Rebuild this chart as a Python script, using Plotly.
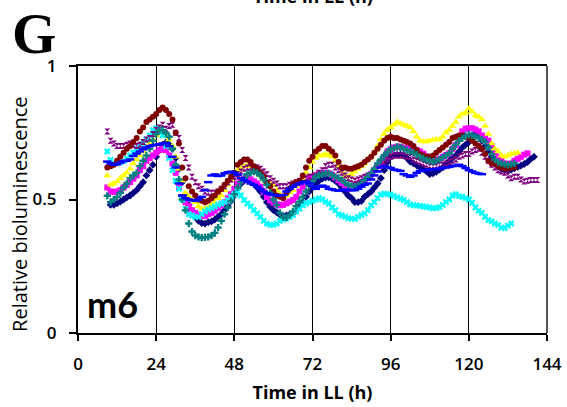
import plotly.graph_objects as go

# ---------------- data (hourly samples, relative bioluminescence) ----------------
x_ticks = [0, 24, 48, 72, 96, 120, 144]
y_ticks = [0, 0.5, 1]
y_tick_labels = ["0", "0.5", "1"]

navy_start = 10
navy = [0.48, 0.48, 0.486, 0.492, 0.50, 0.508, 0.515, 0.525, 0.535, 0.55,
        0.565, 0.59, 0.61, 0.63, 0.66, 0.685, 0.705, 0.713, 0.705, 0.69,
        0.655, 0.615, 0.565, 0.52, 0.48, 0.455, 0.435, 0.42, 0.412, 0.41,
        0.415, 0.418, 0.425, 0.435, 0.445, 0.46, 0.475, 0.495, 0.515, 0.54,
        0.56, 0.57, 0.575, 0.57, 0.56, 0.545, 0.53, 0.51, 0.49, 0.473,
        0.46, 0.452, 0.443, 0.438, 0.44, 0.444, 0.448, 0.46, 0.475, 0.49,
        0.51, 0.53, 0.545, 0.56, 0.57, 0.578, 0.582, 0.583, 0.578, 0.57,
        0.56, 0.545, 0.53, 0.515, 0.505, 0.49, 0.49, 0.494, 0.51, 0.52,
        0.53, 0.545, 0.56, 0.58, 0.61, 0.64, 0.66, 0.665, 0.668, 0.668,
        0.665, 0.655, 0.642, 0.635, 0.628, 0.62, 0.615, 0.605, 0.595, 0.598,
        0.604, 0.612, 0.62, 0.632, 0.645, 0.655, 0.665, 0.68, 0.695, 0.705,
        0.715, 0.74, 0.748, 0.745, 0.72, 0.70, 0.68, 0.66, 0.64, 0.625,
        0.615, 0.61, 0.61, 0.612, 0.617, 0.622, 0.627, 0.633, 0.64, 0.652,
        0.66]

magenta_start = 9
magenta = [0.545, 0.53, 0.528, 0.53, 0.535, 0.545, 0.555, 0.565, 0.578, 0.59,
           0.61, 0.625, 0.645, 0.655, 0.665, 0.675, 0.685, 0.69, 0.685, 0.665,
           0.635, 0.60, 0.545, 0.51, 0.49, 0.475, 0.46, 0.45, 0.443, 0.44,
           0.438, 0.445, 0.45, 0.458, 0.468, 0.478, 0.49, 0.505, 0.52, 0.54,
           0.56, 0.57, 0.578, 0.58, 0.575, 0.568, 0.56, 0.548, 0.53, 0.51,
           0.497, 0.488, 0.482, 0.478, 0.48, 0.486, 0.492, 0.498, 0.51, 0.53,
           0.548, 0.565, 0.578, 0.585, 0.59, 0.597, 0.598, 0.60, 0.598, 0.592,
           0.582, 0.572, 0.562, 0.55, 0.542, 0.545, 0.548, 0.56, 0.566, 0.572,
           0.58, 0.595, 0.61, 0.625, 0.64, 0.66, 0.68, 0.688, 0.695, 0.698,
           0.697, 0.694, 0.692, 0.69, 0.688, 0.685, 0.68, 0.672, 0.662, 0.654,
           0.65, 0.648, 0.652, 0.66, 0.667, 0.673, 0.69, 0.704, 0.735, 0.755,
           0.765, 0.767, 0.767, 0.762, 0.755, 0.74, 0.73, 0.72, 0.70, 0.68,
           0.66, 0.645, 0.635, 0.63, 0.635, 0.645, 0.652, 0.66, 0.668, 0.673]

yellow_start = 9
yellow = [0.59, 0.555, 0.56, 0.567, 0.58, 0.59, 0.60, 0.615, 0.635, 0.65,
          0.665, 0.68, 0.695, 0.71, 0.725, 0.74, 0.755, 0.75, 0.74, 0.725,
          0.70, 0.66, 0.615, 0.57, 0.525, 0.51, 0.50, 0.49, 0.475, 0.465,
          0.465, 0.47, 0.48, 0.49, 0.505, 0.515, 0.535, 0.555, 0.575, 0.60,
          0.61, 0.617, 0.625, 0.627, 0.625, 0.615, 0.605, 0.59, 0.575, 0.565,
          0.56, 0.553, 0.535, 0.52, 0.505, 0.515, 0.525, 0.535, 0.55, 0.565,
          0.58, 0.60, 0.62, 0.64, 0.655, 0.665, 0.665, 0.67, 0.665, 0.66,
          0.645, 0.625, 0.605, 0.59, 0.585, 0.595, 0.605, 0.615, 0.625, 0.635,
          0.65, 0.66, 0.68, 0.70, 0.725, 0.745, 0.76, 0.77, 0.78, 0.79,
          0.785, 0.78, 0.775, 0.77, 0.755, 0.735, 0.72, 0.717, 0.717, 0.72,
          0.723, 0.725, 0.725, 0.735, 0.75, 0.76, 0.775, 0.79, 0.81, 0.82,
          0.825, 0.84, 0.83, 0.815, 0.81, 0.80, 0.775, 0.745, 0.71, 0.69,
          0.68, 0.665, 0.66, 0.665, 0.67, 0.672, 0.675]

cyan_start = 9
cyan = [0.68, 0.648, 0.635, 0.635, 0.64, 0.645, 0.655, 0.665, 0.675, 0.69,
        0.70, 0.71, 0.725, 0.74, 0.76, 0.767, 0.755, 0.74, 0.70, 0.655,
        0.61, 0.57, 0.54, 0.50, 0.465, 0.445, 0.44, 0.434, 0.435, 0.445,
        0.455, 0.462, 0.468, 0.474, 0.48, 0.485, 0.49, 0.498, 0.51, 0.52,
        0.53, 0.515, 0.498, 0.485, 0.475, 0.46, 0.448, 0.435, 0.42, 0.41,
        0.405, 0.405, 0.41, 0.42, 0.425, 0.43, 0.435, 0.442, 0.455, 0.465,
        0.478, 0.486, 0.49, 0.495, 0.50, 0.505, 0.50, 0.492, 0.485, 0.47,
        0.46, 0.445, 0.44, 0.436, 0.43, 0.428, 0.427, 0.435, 0.442, 0.448,
        0.46, 0.478, 0.49, 0.505, 0.518, 0.522, 0.52, 0.518, 0.513, 0.508,
        0.503, 0.498, 0.49, 0.482, 0.478, 0.478, 0.476, 0.474, 0.472, 0.47,
        0.467, 0.468, 0.472, 0.48, 0.49, 0.50, 0.515, 0.52, 0.513, 0.51,
        0.505, 0.50, 0.488, 0.47, 0.458, 0.45, 0.435, 0.423, 0.418, 0.41,
        0.404, 0.395, 0.393, 0.402, 0.41]

purple_start = 9
purple = [0.755, 0.72, 0.71, 0.70, 0.70, 0.70, 0.705, 0.71, 0.705, 0.70,
          0.705, 0.715, 0.725, 0.73, 0.745, 0.76, 0.77, 0.78, 0.765, 0.775,
          0.78, 0.75, 0.73, 0.685, 0.655, 0.62, 0.585, 0.565, 0.55, 0.54,
          0.53, 0.525, 0.525, 0.525, 0.53, 0.54, 0.55, 0.565, 0.575, 0.585,
          0.595, 0.605, 0.615, 0.62, 0.62, 0.62, 0.62, 0.615, 0.605, 0.595,
          0.58, 0.57, 0.56, 0.55, 0.55, 0.55, 0.555, 0.56, 0.565, 0.57,
          0.575, 0.58, 0.585, 0.585, 0.59, 0.60, 0.61, 0.625, 0.63, 0.63,
          0.62, 0.61, 0.60, 0.59, 0.58, 0.575, 0.57, 0.575, 0.58, 0.585,
          0.59, 0.59, 0.60, 0.615, 0.63, 0.64, 0.65, 0.66, 0.665, 0.665,
          0.665, 0.665, 0.66, 0.66, 0.65, 0.645, 0.64, 0.635, 0.63, 0.625,
          0.625, 0.625, 0.63, 0.63, 0.635, 0.64, 0.645, 0.65, 0.66, 0.665,
          0.67, 0.67, 0.68, 0.685, 0.69, 0.675, 0.66, 0.645, 0.63, 0.62,
          0.61, 0.605, 0.60, 0.59, 0.58, 0.585, 0.585, 0.575, 0.567, 0.57,
          0.573, 0.573, 0.573]

maroon_start = 9
maroon = [0.62, 0.625, 0.63, 0.645, 0.66, 0.675, 0.69, 0.70, 0.715, 0.73,
          0.755, 0.77, 0.79, 0.80, 0.81, 0.82, 0.835, 0.845, 0.835, 0.82,
          0.80, 0.75, 0.71, 0.62, 0.58, 0.55, 0.53, 0.515, 0.50, 0.495,
          0.49, 0.495, 0.505, 0.515, 0.53, 0.54, 0.555, 0.57, 0.585, 0.60,
          0.63, 0.64, 0.65, 0.65, 0.64, 0.625, 0.615, 0.60, 0.585, 0.565,
          0.55, 0.53, 0.515, 0.51, 0.505, 0.525, 0.54, 0.555, 0.565, 0.57,
          0.59, 0.62, 0.645, 0.66, 0.68, 0.69, 0.70, 0.70, 0.69, 0.68,
          0.665, 0.64, 0.62, 0.62, 0.615, 0.615, 0.62, 0.625, 0.63, 0.64,
          0.65, 0.66, 0.675, 0.69, 0.705, 0.72, 0.73, 0.735, 0.73, 0.73,
          0.725, 0.72, 0.715, 0.71, 0.70, 0.685, 0.67, 0.665, 0.66, 0.66,
          0.665, 0.675, 0.685, 0.695, 0.705, 0.715, 0.73, 0.735, 0.74, 0.74,
          0.735, 0.73, 0.72, 0.71, 0.70, 0.69, 0.67, 0.645, 0.635, 0.635,
          0.625, 0.62, 0.615, 0.615, 0.62, 0.62]

teal_start = 9
teal = [0.514, 0.49, 0.50, 0.51, 0.525, 0.545, 0.56, 0.58, 0.59, 0.60,
        0.625, 0.645, 0.665, 0.69, 0.72, 0.745, 0.76, 0.76, 0.748, 0.735,
        0.69, 0.63, 0.575, 0.50, 0.46, 0.41, 0.38, 0.365, 0.36, 0.357,
        0.358, 0.36, 0.365, 0.375, 0.395, 0.42, 0.445, 0.47, 0.495, 0.52,
        0.545, 0.565, 0.58, 0.595, 0.60, 0.604, 0.60, 0.59, 0.575, 0.555,
        0.525, 0.50, 0.48, 0.45, 0.433, 0.432, 0.442, 0.455, 0.475, 0.492,
        0.51, 0.53, 0.55, 0.568, 0.585, 0.59, 0.594, 0.597, 0.598, 0.592,
        0.585, 0.58, 0.573, 0.562, 0.555, 0.55, 0.548, 0.553, 0.56, 0.573,
        0.585, 0.598, 0.615, 0.635, 0.65, 0.665, 0.678, 0.688, 0.692, 0.697,
        0.695, 0.69, 0.685, 0.68, 0.675, 0.668, 0.66, 0.655, 0.648, 0.645,
        0.642, 0.645, 0.65, 0.658, 0.665, 0.673, 0.69, 0.705, 0.72, 0.73,
        0.738, 0.742, 0.74, 0.735, 0.731, 0.725, 0.716, 0.695, 0.67, 0.65,
        0.64, 0.635, 0.632, 0.63, 0.632, 0.635]

blue_start = 9
blue = [0.642, 0.635, 0.63, 0.632, 0.638, 0.644, 0.645, 0.65, 0.663, 0.672,
        0.68, 0.688, 0.695, 0.70, 0.703, 0.705, 0.707, 0.71, 0.71, 0.70,
        0.66, 0.62, 0.56, 0.515, 0.505, 0.50, 0.497, 0.495, 0.50, 0.51,
        0.535, 0.565, 0.59, 0.594, 0.588, 0.59, 0.598, 0.602, 0.604, 0.60,
        0.592, 0.58, 0.573, 0.567, 0.56, 0.555, 0.548, 0.54, 0.53, 0.523,
        0.52, 0.517, 0.515, 0.515, 0.517, 0.53, 0.54, 0.548, 0.555, 0.56,
        0.565, 0.567, 0.56, 0.55, 0.54, 0.548, 0.552, 0.548, 0.54, 0.538,
        0.535, 0.533, 0.535, 0.538, 0.535, 0.535, 0.535, 0.54, 0.548, 0.555,
        0.56, 0.575, 0.59, 0.605, 0.62, 0.625, 0.622, 0.618, 0.612, 0.61,
        0.607, 0.595, 0.59, 0.585, 0.59, 0.60, 0.607, 0.608, 0.61, 0.612,
        0.613, 0.614, 0.616, 0.618, 0.62, 0.622, 0.625, 0.627, 0.63, 0.625,
        0.618, 0.61, 0.605, 0.60, 0.597, 0.595]

# ---------------- figure ----------------
series = [
    (navy_start, navy, "#000080", "diamond", 6),
    (magenta_start, magenta, "#FF00FF", "square", 6),
    (yellow_start, yellow, "#FFFF00", "triangle-up", 7),
    (cyan_start, cyan, "#00FFFF", "x", 6),
    (purple_start, purple, "#800080", "hourglass", 6),
    (maroon_start, maroon, "#800000", "circle", 6),
    (teal_start, teal, "#008080", "cross", 6),
]

fig = go.Figure()
for start, vals, color, sym, size in series:
    xs = [start + i for i in range(len(vals))]
    fig.add_trace(go.Scatter(x=xs, y=vals, mode="markers",
                             marker=dict(symbol=sym, size=size, color=color,
                                         line=dict(width=0)),
                             showlegend=False, hoverinfo="skip"))
fig.add_trace(go.Scatter(x=[blue_start + i for i in range(len(blue))], y=blue,
                         mode="markers",
                         marker=dict(symbol="line-ew-open", size=6, color="#0000FF",
                                     line=dict(width=2.5, color="#0000FF")),
                         showlegend=False, hoverinfo="skip"))

tick_font = dict(family="Open Sans, sans-serif", size=17, color="black", weight=600)
xtitle_font = dict(family="Open Sans, sans-serif", size=18, color="black", weight=700)
ytitle_font = dict(family="Open Sans, sans-serif", size=20, color="black", weight=500)

fig.update_layout(
    width=567, height=407,
    margin=dict(l=78, r=20, t=66, b=74),
    paper_bgcolor="white", plot_bgcolor="white",
    xaxis=dict(range=[0, 144], tickvals=x_ticks, ticktext=[str(v) for v in x_ticks],
               automargin=False,
               showgrid=True, gridcolor="black", gridwidth=1, zeroline=False,
               showline=True, linecolor="black", linewidth=2, mirror=True,
               ticks="outside", ticklen=6, tickwidth=1.5, tickcolor="black",
               ticklabelstandoff=9,
               tickfont=tick_font,
               title=dict(text="Time in LL (h)", font=xtitle_font, standoff=12)),
    yaxis=dict(range=[0, 1], tickvals=y_ticks, ticktext=y_tick_labels,
               automargin=False,
               showgrid=False, zeroline=False,
               showline=True, linecolor="black", linewidth=2,
               ticks="outside", ticklen=7, tickwidth=1.5, tickcolor="black",
               ticklabelstandoff=9,
               tickfont=tick_font),
    shapes=[dict(type="line", xref="paper", yref="paper", x0=1, x1=1, y0=0, y1=1,
                 line=dict(color="#555555", width=2))],
    annotations=[
        dict(text="Relative bioluminescence", xref="paper", yref="paper",
             x=-0.1237, y=0.446, xanchor="center", yanchor="middle",
             textangle=-90, showarrow=False, font=ytitle_font),
        dict(text="<b>G</b>", xref="paper", yref="paper", x=-0.146, y=0.995,
             xanchor="left", yanchor="bottom", showarrow=False,
             font=dict(family="Liberation Serif, Times New Roman, serif", size=57, color="black")),
        dict(text="m6", xref="paper", yref="paper", x=0.015, y=0.018,
             xanchor="left", yanchor="bottom", showarrow=False,
             font=dict(family="Lato, sans-serif", size=36, color="black", weight=700)),
        dict(text="Time in LL (h)", xref="paper", yref="paper", x=0.5, y=1.21,
             xanchor="center", yanchor="bottom", showarrow=False,
             font=xtitle_font),
    ],
)

fig.write_html("out.html")
